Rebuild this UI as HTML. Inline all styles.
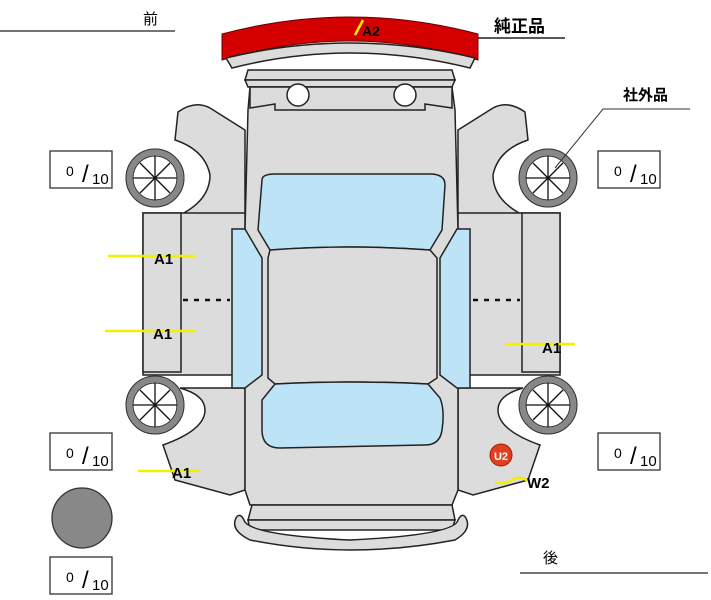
<!DOCTYPE html>
<html><head><meta charset="utf-8"><style>
html,body{margin:0;padding:0;background:#fff;width:711px;height:600px;overflow:hidden}
svg{display:block}
text{font-family:"Liberation Sans","Noto Sans CJK JP",sans-serif}
</style></head><body>
<svg width="711" height="600" viewBox="0 0 711 600" xmlns="http://www.w3.org/2000/svg">
<g stroke="#222" stroke-width="1.5" fill="#dcdcdc">
<!-- red bumper -->
<path d="M222,60 L222,34 Q350,0 478,34 L478,60 Q350,22 222,60 Z" fill="#d40000" stroke="#600" stroke-width="1"/>
<path d="M226,58 Q350,28 475,58 L470,68 Q350,38 232,68 Z"/>
<!-- grille bars -->
<path d="M248,70 L452,70 L455,80 L245,80 Z"/>
<path d="M245,80 L455,80 L452,87 L248,87 Z"/>
<!-- fenders left -->
<path d="M175,140 L178,112 Q195,100 210,108 L245,130 L245,215 L180,215 Q210,200 210,175 Q205,150 175,140 Z"/>
<path d="M143,213 L245,213 L245,375 L143,375 Z"/>
<path d="M143,213 L181,213 L181,372 L143,372 Z"/>
<path d="M180,388 L245,388 L245,490 L230,495 L175,480 L163,445 Q205,430 205,410 Q205,395 180,388 Z"/>
<!-- fenders right -->
<path d="M528,140 L525,112 Q508,100 493,108 L458,130 L458,215 L523,215 Q493,200 493,175 Q498,150 528,140 Z"/>
<path d="M458,213 L560,213 L560,375 L458,375 Z"/>
<path d="M522,213 L560,213 L560,372 L522,372 Z"/>
<path d="M523,388 L458,388 L458,490 L473,495 L528,480 L540,445 Q498,430 498,410 Q498,395 523,388 Z"/>
<!-- main body -->
<path d="M250,87 L452,87 L455,110 L458,230 L458,490 L452,505 L250,505 L245,490 L245,230 L248,110 Z"/>
<path d="M250,87 L452,87 L452,108 L425,104 L425,110 L275,110 L275,104 L250,108 Z"/>
<!-- rear bumper -->
<path d="M252,505 L452,505 L455,520 L248,520 Z"/>
<path d="M248,520 L455,520 L452,530 L250,530 Z"/>
<path d="M236,518 Q230,530 250,540 Q350,560 455,540 Q472,530 466,518 Q462,512 458,520 Q455,535 350,540 Q248,535 244,520 Q240,512 236,518 Z"/>
</g>
<circle cx="298" cy="95" r="11" fill="#fff" stroke="#222" stroke-width="1.5"/>
<circle cx="405" cy="95" r="11" fill="#fff" stroke="#222" stroke-width="1.5"/>
<g stroke="#222" stroke-width="1.5">
<path d="M262,180 Q262,174 275,174 L430,174 Q445,174 445,185 L442,230 L430,250 Q350,244 270,250 L258,230 Z" fill="#bde3f6"/>
<path d="M270,250 Q350,244 430,250 L437,258 L437,378 L428,384 Q350,380 275,384 L268,378 L268,258 Z" fill="#dcdcdc"/>
<path d="M275,384 Q350,380 428,384 L440,398 Q445,410 442,430 Q440,445 425,445 L280,448 Q262,448 262,430 L262,400 Z" fill="#bde3f6"/>
<path d="M232,229 L245,229 L262,258 L262,375 L245,388 L232,388 Z" fill="#bde3f6"/>
<path d="M470,229 L457,229 L440,258 L440,375 L457,388 L470,388 Z" fill="#bde3f6"/>
</g>
<g stroke="#111" stroke-width="2.5" stroke-dasharray="5,6">
<line x1="183" y1="300" x2="230" y2="300"/><line x1="473" y1="300" x2="520" y2="300"/>
</g>
<!-- wheels -->
<g id="w">
<circle cx="155" cy="178" r="26" fill="#fff" stroke="#888" stroke-width="7"/>
<circle cx="155" cy="178" r="29" fill="none" stroke="#333" stroke-width="1"/>
<circle cx="155" cy="178" r="22" fill="none" stroke="#333" stroke-width="1"/>
<g stroke="#111" stroke-width="1.3"><line x1="133" y1="178" x2="177" y2="178"/><line x1="155" y1="156" x2="155" y2="200"/><line x1="140" y1="163" x2="170" y2="193"/><line x1="170" y1="163" x2="140" y2="193"/></g>
</g>
<use href="#w" x="393" y="0"/><use href="#w" x="0" y="227"/><use href="#w" x="393" y="227"/>
<!-- boxes -->
<g fill="#fff" stroke="#333" stroke-width="1.3">
<rect x="50" y="151" width="62" height="37"/><rect x="598" y="151" width="62" height="37"/>
<rect x="50" y="433" width="62" height="37"/><rect x="598" y="433" width="62" height="37"/>
<rect x="50" y="557" width="62" height="37"/>
</g>
<g font-size="16">
<g id="t"><text x="66" y="176" font-size="14">0</text><text x="82" y="182" font-size="24">/</text><text x="92" y="184" font-size="15">10</text></g>
<use href="#t" x="548" y="0"/><use href="#t" x="0" y="282"/><use href="#t" x="548" y="282"/><use href="#t" x="0" y="406"/>
</g>
<circle cx="82" cy="518" r="30" fill="#888" stroke="#333" stroke-width="1.3"/>
<!-- labels -->
<text x="143" y="24" font-size="15">前</text><line x1="0" y1="31" x2="175" y2="31" stroke="#222" stroke-width="1.3"/>
<text x="543" y="563" font-size="15">後</text><line x1="520" y1="573" x2="708" y2="573" stroke="#222" stroke-width="1.3"/>
<text x="494" y="32" font-size="17" font-weight="bold">純正品</text><line x1="478" y1="38" x2="565" y2="38" stroke="#222" stroke-width="1.5"/>
<text x="623" y="100" font-size="15" font-weight="bold">社外品</text>
<polyline points="690,109 603,109 555,168" fill="none" stroke="#333" stroke-width="1"/>
<g stroke="#f2ef00" stroke-width="2.5">
<line x1="108" y1="256" x2="195" y2="256"/><line x1="105" y1="331" x2="195" y2="331"/>
<line x1="505" y1="344" x2="575" y2="344"/><line x1="138" y1="471" x2="200" y2="471"/>
<line x1="355" y1="35" x2="363" y2="20"/>
<path d="M495,482 Q505,485 512,480 Q520,475 528,481" fill="none"/>
</g>
<g font-size="15" font-weight="bold">
<text x="154" y="264">A1</text><text x="153" y="339">A1</text><text x="542" y="353">A1</text><text x="172" y="478">A1</text>
<text x="362" y="36" font-size="14">A2</text><text x="527" y="488">W2</text>
</g>
<circle cx="501" cy="455" r="11" fill="#e04020" stroke="#a02000"/>
<text x="501" y="460" font-size="11" font-weight="bold" fill="#fff" text-anchor="middle">U2</text>
</svg>
</body></html>
